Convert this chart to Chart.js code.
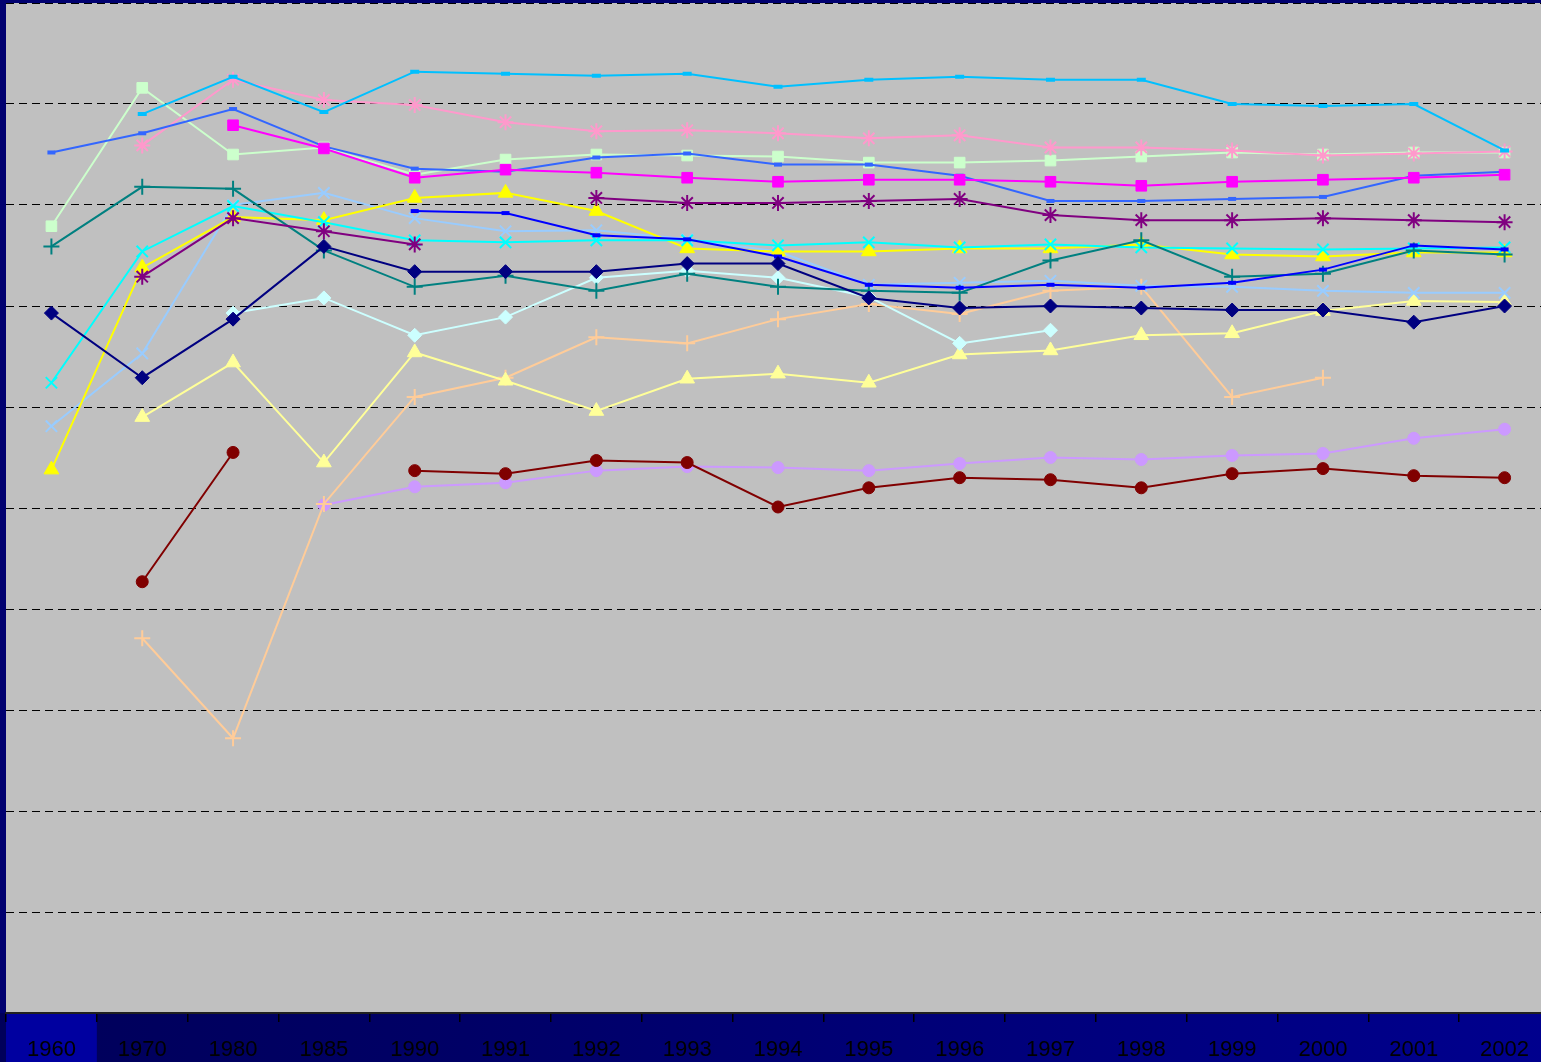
<!DOCTYPE html>
<html>
<head>
<meta charset="utf-8">
<script src="https://cdn.jsdelivr.net/npm/chart.js@4/dist/chart.umd.min.js"></script>
<style>
  html, body { margin: 0; padding: 0; background: #000070; overflow: hidden; }
  #wrap { position: relative; width: 1541px; height: 1062px; overflow: hidden; }
  canvas { display: block; }
</style>
</head>
<body>
<div id="wrap"><canvas id="lines" width="1550" height="1062"></canvas></div>
<script>
const years = ['1960', '1970', '1980', '1985', '1990', '1991', '1992', '1993', '1994',
  '1995', '1996', '1997', '1998', '1999', '2000', '2001', '2002'];

const skyBlue    = [null, 89.0, 92.7, 89.2, 93.2, 93.0, 92.8, 93.0, 91.7, 92.4, 92.7, 92.4, 92.4, 90.0, 89.8, 90.0, 85.4];
const pink       = [null, 85.9, 92.4, 90.4, 89.9, 88.2, 87.3, 87.4, 87.1, 86.6, 86.9, 85.7, 85.7, 85.4, 84.9, 85.1, 85.3];
const paleGreen  = [77.9, 91.6, 85.0, 85.7, 83.0, 84.5, 85.0, 84.9, 84.8, 84.2, 84.2, 84.4, 84.8, 85.2, 85.0, 85.2, 85.2];
const royalBlue  = [85.2, 87.1, 89.5, 85.8, 83.6, 83.3, 84.7, 85.1, 84.0, 84.0, 82.9, 80.4, 80.4, 80.6, 80.8, 82.9, 83.3];
const magenta    = [null, null, 87.9, 85.6, 82.7, 83.5, 83.2, 82.7, 82.3, 82.5, 82.5, 82.3, 81.9, 82.3, 82.5, 82.7, 83.0];
const purple     = [null, 72.9, 78.7, 77.4, 76.1, null, 80.7, 80.2, 80.2, 80.4, 80.6, 79.0, 78.5, 78.5, 78.7, 78.5, 78.3];
const teal       = [75.9, 81.8, 81.6, 75.5, 71.9, 73.0, 71.5, 73.2, 71.9, 71.5, 71.3, 74.5, 76.5, 72.9, 73.2, 75.5, 75.1];
const yellow     = [53.8, 73.8, 78.8, 78.5, 80.7, 81.2, 79.4, 75.7, 75.4, 75.4, 75.7, 75.7, 76.1, 75.1, 74.9, 75.3, 75.3];
const cyan       = [62.4, 75.4, 79.9, 78.3, 76.5, 76.3, 76.5, 76.5, 76.0, 76.3, 75.8, 76.1, 75.8, 75.7, 75.6, 75.7, 75.8];
const lightBlue  = [58.1, 65.3, 80.0, 81.2, 78.7, 77.4, 77.5, 76.6, 75.4, 72.1, 72.3, 72.5, 72.0, 71.9, 71.5, 71.3, 71.3];
const blue       = [null, null, null, null, 79.4, 79.2, 77.0, 76.6, 74.9, 72.1, 71.8, 72.1, 71.8, 72.3, 73.6, 76.0, 75.6];
const navy       = [69.3, 62.9, 68.7, 75.9, 73.4, 73.4, 73.4, 74.2, 74.2, 70.8, 69.8, 70.0, 69.8, 69.6, 69.6, 68.4, 70.0];
const paleCyan   = [null, null, 69.3, 70.8, 67.1, 68.9, 72.8, 73.5, 72.8, 70.9, 66.3, 67.6, null, null, null, null, null];
const paleYellow = [null, 59.0, 64.4, 54.5, 65.4, 62.6, 59.6, 62.8, 63.3, 62.4, 65.2, 65.6, 67.1, 67.3, 69.5, 70.5, 70.4];
const peach      = [null, 37.1, 27.2, 50.4, 61.0, 62.9, 66.9, 66.3, 68.7, 70.2, 69.2, 71.5, 71.9, 61.0, 62.9, null, null];
const darkRed    = [null, 42.7, 55.5, null, 53.7, 53.4, 54.7, 54.5, 50.1, 52.0, 53.0, 52.8, 52.0, 53.4, 53.9, 53.2, 53.0];
const lavender   = [null, null, null, 50.3, 52.1, 52.5, 53.7, 54.1, 54.0, 53.7, 54.4, 55.0, 54.8, 55.2, 55.4, 56.9, 57.8];

// one line per series: colour, marker shape, marker size
function series(label, data, color, style, radius, markerWidth) {
  return {
    label: label,
    data: data,
    borderColor: color,
    backgroundColor: color,
    borderWidth: 2,
    pointStyle: style,
    pointRadius: radius,
    pointBorderWidth: markerWidth,
    pointBackgroundColor: color,
    pointBorderColor: color,
    spanGaps: false,
    tension: 0
  };
}

const datasets = [
  series('darkRed', darkRed, '#800000', 'circle', 6, 1),
  series('navy', navy, '#000080', 'rectRot', 7, 1),
  series('blue', blue, '#0000ff', 'line', 4, 4),
  series('purple', purple, '#800080', 'star', 8, 2),
  series('teal', teal, '#008080', 'cross', 8, 2),
  series('magenta', magenta, '#ff00ff', 'rect', 7.5, 1),
  series('royalBlue', royalBlue, '#3366ff', 'line', 4, 4),
  series('cyan', cyan, '#00ffff', 'crossRot', 8, 2),
  series('yellow', yellow, '#ffff00', 'triangle', 8.5, 1),
  series('lightBlue', lightBlue, '#99ccff', 'crossRot', 8, 2),
  series('skyBlue', skyBlue, '#00c0ff', 'line', 4.5, 4),
  series('pink', pink, '#ff99cc', 'star', 8, 2),
  series('paleGreen', paleGreen, '#ccffcc', 'rect', 7.5, 1),
  series('paleCyan', paleCyan, '#ccffff', 'rectRot', 7, 1),
  series('paleYellow', paleYellow, '#ffff99', 'triangle', 8.5, 1),
  series('peach', peach, '#ffcc99', 'cross', 8, 2),
  series('lavender', lavender, '#cc99ff', 'circle', 6, 1)
];

// navy page, shaded label strip and grey plot area
const backdrop = {
  id: 'backdrop',
  beforeDraw(chart) {
    const { ctx, chartArea } = chart;
    const x = chart.scales.x;
    ctx.save();
    ctx.fillStyle = '#000070';
    ctx.fillRect(0, 0, chart.width, chart.height);
    const band = ctx.createLinearGradient(0, 0, chart.width, 0);
    band.addColorStop(0, '#00005a');
    band.addColorStop(0.3, '#000066');
    band.addColorStop(0.6, '#000078');
    band.addColorStop(1, '#00008e');
    ctx.fillStyle = band;
    ctx.fillRect(0, chartArea.bottom, chart.width, chart.height - chartArea.bottom);
    const cell = x.getPixelForValue(0) + (x.getPixelForValue(1) - x.getPixelForValue(0)) / 2;
    ctx.fillStyle = '#0000a0';
    ctx.fillRect(chartArea.left, chartArea.bottom, cell - chartArea.left, chart.height - chartArea.bottom);
    ctx.fillStyle = '#c0c0c0';
    ctx.fillRect(chartArea.left, chartArea.top, chartArea.right - chartArea.left, chartArea.bottom - chartArea.top);
    ctx.restore();
  }
};

new Chart(document.getElementById('lines'), {
  type: 'line',
  data: { labels: years, datasets: datasets },
  options: {
    responsive: false,
    animation: false,
    layout: { autoPadding: false, padding: { left: 6, top: 3, right: 0, bottom: 0 } },
    plugins: {
      legend: { display: false },
      tooltip: { enabled: false }
    },
    scales: {
      x: {
        offset: true,
        afterFit(scale) { scale.height = 49; },
        grid: {
          offset: true,
          drawOnChartArea: false,
          tickLength: 9,
          color: '#000000',
          lineWidth: 1.5
        },
        border: { display: true, color: '#202020', width: 2 },
        ticks: {
          color: '#000000',
          padding: 15,
          maxRotation: 0,
          autoSkip: false,
          font: { family: '"Liberation Sans", Arial, sans-serif', size: 22 }
        }
      },
      y: {
        min: 0,
        max: 100,
        afterFit(scale) { scale.width = 0; },
        border: { display: false, dash: [8, 5] },
        grid: {
          color: '#000000',
          lineWidth: 1,
          drawTicks: false
        },
        ticks: { display: false, stepSize: 10 }
      }
    }
  },
  plugins: [backdrop]
});
</script>
</body>
</html>
